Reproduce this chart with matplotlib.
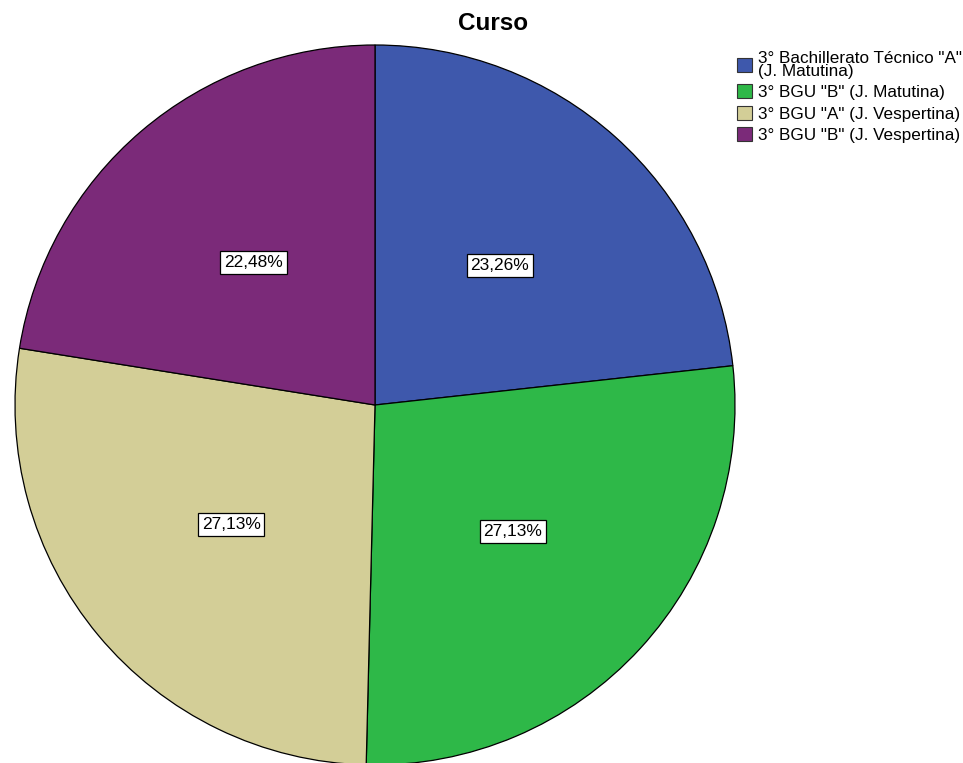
import matplotlib.pyplot as plt

# Curso distribution (percent)
categorias = ['3° Bachillerato Técnico "A"\n(J. Matutina)',
              '3° BGU "B" (J. Matutina)',
              '3° BGU "A" (J. Vespertina)',
              '3° BGU "B" (J. Vespertina)']
porcentajes = [23.26, 27.13, 27.13, 22.48]
colores = ['#3E58AC', '#2EB848', '#D3CE97', '#7B2A79']

plt.rcParams['font.family'] = ['Liberation Sans', 'DejaVu Sans']

fig = plt.figure(figsize=(9.63, 7.63), dpi=100)
ax = fig.add_axes([15 / 963, (763 - 765) / 763, 720 / 963, 720 / 763])

wedges, textos = ax.pie(porcentajes, colors=colores, startangle=90, counterclock=False,
                        labels=[f"{p:.2f}%".replace('.', ',') for p in porcentajes],
                        labeldistance=0.52,
                        wedgeprops=dict(edgecolor='black', linewidth=0.9))
for t in textos:
    t.set_ha('center')
    t.set_va('center')
    t.set_fontsize(12.5)
    t.set_bbox(dict(facecolor='white', edgecolor='black', linewidth=0.9, boxstyle='square,pad=0.22'))

ax.set_xlim(-1, 1)
ax.set_ylim(-1, 1)

fig.text(493 / 963, 1 - 23 / 763, 'Curso', ha='center', va='center', fontsize=17.5, fontweight='bold')

leg = fig.legend(wedges, categorias, loc='upper left', bbox_to_anchor=(737 / 963, 1 - 51 / 763),
                 frameon=False, fontsize=12.3, handlelength=0.9, handleheight=0.9,
                 handletextpad=0.3, labelspacing=0.32, borderpad=0, borderaxespad=0)
for h in leg.legend_handles:
    h.set_edgecolor('#333333')
    h.set_linewidth(0.8)
for t in leg.get_texts():
    t.set_linespacing(0.8)

fig.savefig('out.png', dpi=100)
